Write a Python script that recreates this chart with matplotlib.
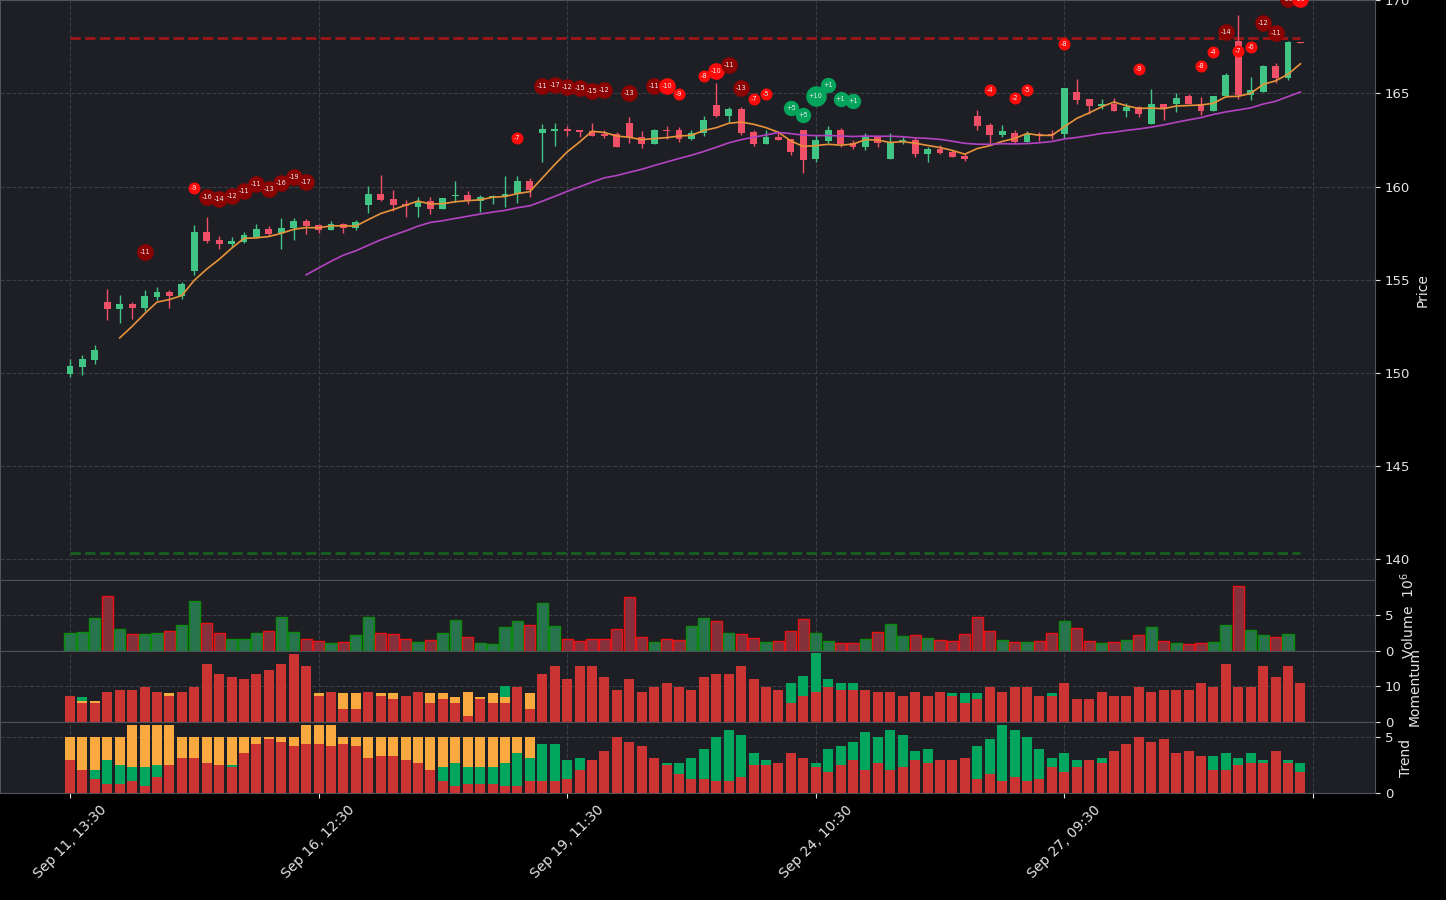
import numpy as np
import pandas as pd
import matplotlib
matplotlib.use("Agg")
import matplotlib.pyplot as plt

# hourly candles starting Sep 11, 13:30
opens = [149.92, 150.29, 150.67, 153.78, 153.41, 153.68, 153.46, 154.05, 154.32, 154.10,
         155.48, 157.56, 157.13, 156.94, 157.04, 157.29, 157.72, 157.49, 157.78, 158.17,
         157.92, 157.69, 157.97, 157.79, 159.03, 159.60, 159.33, 159.07, 158.92, 159.22,
         158.82, 159.49, 159.53, 159.24, 159.42, 159.46, 159.58, 160.30, 162.86, 163.00,
         163.10, 163.05, 163.00, 162.80, 162.80, 163.42, 162.68, 162.29, 163.06, 163.04,
         162.57, 162.86, 164.38, 163.81, 164.17, 162.93, 162.29, 162.68, 162.54, 163.04,
         161.48, 162.47, 163.04, 162.32, 162.14, 162.68, 161.48, 162.45, 162.50, 161.77,
         162.02, 161.88, 161.66, 163.78, 163.28, 162.78, 162.90, 162.40, 162.85, 162.85,
         162.81, 165.07, 164.70, 164.32, 164.41, 164.05, 164.25, 163.35, 164.43, 164.41,
         164.84, 164.46, 164.05, 164.87, 167.80, 164.91, 165.07, 166.47, 165.84, 167.76]
highs = [150.76, 150.94, 151.51, 154.48, 154.16, 153.80, 154.43, 154.61, 154.43, 154.87,
         157.92, 158.39, 157.35, 157.31, 157.54, 157.99, 157.88, 158.30, 158.30, 158.26,
         157.99, 158.15, 158.04, 158.20, 160.03, 160.62, 159.80, 159.28, 159.46, 159.46,
         159.41, 160.30, 159.76, 159.55, 159.53, 160.57, 160.57, 160.44, 163.34, 163.40,
         163.27, 163.06, 163.40, 163.05, 162.95, 163.76, 162.99, 163.09, 163.25, 163.20,
         163.02, 163.79, 165.55, 164.26, 164.26, 163.04, 163.04, 162.91, 162.54, 163.04,
         162.77, 163.24, 163.13, 162.50, 162.86, 162.77, 162.86, 162.68, 162.61, 162.14,
         162.23, 161.97, 161.79, 164.10, 163.39, 163.28, 163.06, 162.99, 162.94, 163.06,
         165.32, 165.77, 164.70, 164.70, 164.78, 164.50, 164.32, 165.22, 164.46, 165.00,
         164.96, 164.82, 164.89, 166.11, 169.21, 165.86, 166.51, 166.61, 167.80, 167.76]
lows = [149.77, 149.86, 150.45, 152.83, 152.67, 152.87, 153.32, 153.93, 153.50, 153.98,
        155.23, 156.99, 156.63, 156.77, 156.99, 157.22, 157.35, 156.63, 157.13, 157.44,
        157.52, 157.65, 157.52, 157.65, 158.56, 159.20, 158.67, 158.39, 158.39, 158.50,
        158.78, 159.17, 159.05, 158.65, 159.08, 158.92, 159.10, 159.46, 161.33, 162.20,
        162.73, 162.65, 162.70, 162.59, 162.14, 162.36, 162.09, 162.29, 162.54, 162.41,
        162.50, 162.70, 163.72, 163.47, 162.75, 162.20, 162.29, 162.52, 161.71, 160.71,
        161.30, 162.32, 162.14, 162.00, 161.96, 162.11, 161.46, 162.29, 161.57, 161.33,
        161.73, 161.57, 161.36, 163.06, 162.35, 162.67, 162.35, 162.40, 162.46, 162.58,
        162.63, 164.46, 163.92, 164.18, 164.05, 163.75, 163.75, 163.35, 163.57, 164.01,
        164.41, 163.84, 164.05, 164.82, 164.70, 164.64, 165.07, 165.54, 165.75, 167.72]
closes = [150.35, 150.72, 151.20, 153.41, 153.68, 153.46, 154.10, 154.32, 154.10, 154.75,
          157.56, 157.10, 156.94, 157.08, 157.40, 157.72, 157.45, 157.78, 158.17, 157.88,
          157.65, 157.97, 157.79, 158.11, 159.60, 159.28, 159.03, 158.98, 159.22, 158.80,
          159.39, 159.53, 159.28, 159.44, 159.49, 159.60, 160.30, 159.82, 163.08, 163.10,
          163.00, 162.95, 162.73, 162.74, 162.14, 162.68, 162.29, 163.04, 162.99, 162.57,
          162.88, 163.58, 163.79, 164.17, 162.90, 162.29, 162.68, 162.52, 161.86, 161.43,
          162.50, 163.04, 162.29, 162.14, 162.64, 162.36, 162.41, 162.50, 161.75, 162.02,
          161.82, 161.61, 161.50, 163.26, 162.78, 162.97, 162.40, 162.85, 162.76, 162.76,
          165.29, 164.64, 164.32, 164.41, 164.05, 164.27, 163.92, 164.43, 164.23, 164.78,
          164.41, 164.05, 164.89, 165.99, 164.91, 165.18, 166.47, 165.84, 167.76, 167.72]

# volume in millions (the last, still open bar has none)
volume = [2.45, 2.6, 4.54, 7.64, 3.0, 2.31, 2.31, 2.45, 2.78, 3.56,
          6.9, 3.89, 2.5, 1.62, 1.62, 2.5, 2.78, 4.68, 2.64, 1.62,
          1.39, 1.06, 1.25, 2.18, 4.68, 2.5, 2.31, 1.62, 1.25, 1.48,
          2.5, 4.26, 1.9, 1.06, 0.93, 3.29, 4.12, 3.56, 6.62, 3.43,
          1.62, 1.34, 1.62, 1.62, 3.0, 7.45, 1.9, 1.2, 1.62, 1.48,
          3.43, 4.54, 4.12, 2.45, 2.31, 1.76, 1.2, 1.34, 2.73, 4.4,
          2.45, 1.34, 1.06, 1.06, 1.62, 2.6, 3.7, 2.04, 2.18, 1.76,
          1.48, 1.34, 2.31, 4.68, 2.73, 1.48, 1.2, 1.2, 1.34, 2.45,
          4.12, 3.15, 1.34, 1.06, 1.2, 1.48, 2.18, 3.29, 1.34, 1.06,
          0.93, 1.06, 1.2, 3.56, 8.98, 2.87, 2.18, 1.9, 2.31]

mom_red = [7.3, 5.3, 5.3, 8.2, 9.0, 9.0, 9.8, 8.2, 7.3, 8.2,
           9.8, 16.2, 13.4, 12.6, 11.8, 13.4, 14.5, 16.2, 19.0, 15.4,
           7.3, 8.2, 3.7, 3.7, 8.2, 7.3, 6.5, 7.3, 8.2, 5.3,
           6.5, 5.3, 1.8, 6.5, 5.3, 5.3, 9.8, 3.7, 13.4, 15.4,
           11.8, 15.4, 15.4, 12.6, 9.0, 11.8, 8.2, 9.8, 10.9, 9.8,
           9.0, 12.6, 13.4, 13.4, 15.4, 11.8, 9.8, 9.0, 5.3, 7.3,
           8.2, 9.8, 9.0, 9.0, 9.0, 8.2, 8.2, 7.3, 8.2, 7.3,
           8.2, 7.3, 5.3, 6.5, 9.8, 8.2, 9.8, 9.8, 7.3, 7.3,
           10.9, 6.5, 6.5, 8.2, 7.3, 7.3, 9.8, 8.2, 9.0, 9.0,
           9.0, 10.9, 9.8, 16.2, 9.8, 9.8, 15.4, 12.6, 15.4, 10.9]
mom_orange = [0, 0.65, 0.65, 0, 0, 0, 0, 0, 0.83, 0,
              0, 0, 0, 0, 0, 0, 0, 0, 0, 0,
              0.83, 0, 4.44, 4.44, 0, 0.83, 1.67, 0, 0, 2.87,
              1.67, 1.76, 6.39, 0.56, 2.87, 1.76, 0, 4.44, 0, 0] + [0] * 60
mom_green = [0, 1.11, 0, 0, 0, 0, 0, 0, 0, 0,
             0, 0, 0, 0, 0, 0, 0, 0, 0, 0,
             0, 0, 0, 0, 0, 0, 0, 0, 0, 0,
             0, 0, 0, 0, 0, 3.06, 0, 0, 0, 0,
             0, 0, 0, 0, 0, 0, 0, 0, 0, 0,
             0, 0, 0, 0, 0, 0, 0, 0, 5.65, 5.56,
             10.83, 2.22, 1.94, 1.94, 0, 0, 0, 0, 0, 0,
             0, 0.83, 2.87, 1.67, 0, 0, 0, 0, 0, 0.83,
             0, 0, 0, 0, 0, 0, 0, 0, 0, 0,
             0, 0, 0, 0, 0, 0, 0, 0, 0, 0]

trend_red = [2.98, 2.08, 1.28, 0.83, 0.83, 1.1, 0.65, 1.46, 2.53, 3.15,
             3.15, 2.71, 2.53, 2.35, 3.6, 4.4, 4.85, 4.58, 4.23, 4.4,
             4.4, 4.23, 4.4, 4.23, 3.15, 3.33, 3.33, 2.98, 2.71, 2.08,
             1.1, 0.65, 0.83, 0.83, 0.83, 0.65, 0.65, 1.1, 1.1, 1.1,
             1.28, 2.08, 2.98, 3.78, 5.03, 4.58, 4.23, 3.15, 2.53, 1.73,
             1.28, 1.28, 1.1, 1.1, 1.46, 2.53, 2.53, 2.71, 3.6, 3.15,
             2.35, 1.9, 2.53, 2.98, 2.08, 2.71, 2.08, 2.35, 2.98, 2.71,
             2.98, 2.98, 3.15, 1.28, 1.73, 1.1, 1.46, 1.1, 1.28, 2.35,
             1.9, 2.35, 2.98, 2.71, 3.78, 4.4, 5.03, 4.58, 4.85, 3.6,
             3.78, 3.33, 2.08, 2.08, 2.53, 2.71, 2.71, 3.78, 2.71, 1.9]
trend_green = [0, 0, 0.8, 2.14, 1.7, 1.25, 1.7, 1.07, 0, 0,
               0, 0, 0, 0.18, 0, 0, 0, 0, 0, 0,
               0, 0, 0, 0, 0, 0, 0, 0, 0, 0,
               1.25, 2.05, 1.52, 1.52, 1.52, 2.05, 2.95, 2.05, 3.3, 3.3,
               1.7, 1.07, 0, 0, 0, 0, 0, 0, 0.18, 0.98,
               1.88, 2.68, 3.93, 4.55, 3.75, 1.07, 0.45, 0, 0, 0,
               0.36, 2.05, 1.7, 1.6, 3.39, 2.32, 3.57, 2.86, 0.8, 1.25,
               0, 0, 0, 2.95, 3.13, 5.0, 4.2, 3.93, 2.68, 0.8,
               1.7, 0.63, 0, 0.45, 0, 0, 0, 0, 0, 0,
               0, 0, 1.25, 1.52, 0.63, 0.89, 0.27, 0, 0.27, 0.8]
trend_orange = [2.05, 2.95, 2.95, 2.05, 2.5, 3.75, 3.75, 3.57, 3.57, 1.88,
                1.88, 2.32, 2.5, 2.5, 1.43, 0.63, 0.18, 0.45, 0.8, 1.7,
                1.7, 1.87, 0.63, 0.8, 1.88, 1.7, 1.7, 2.05, 2.32, 2.95,
                2.68, 2.32, 2.68, 2.68, 2.68, 2.32, 1.43, 1.88, 0, 0] + [0] * 60

# signal bubbles: candle index, score, price level
bub_idx = [6, 10, 11, 12, 13, 14, 15, 16, 17, 18, 19,
           36, 38, 39, 40, 41, 42, 43, 45, 47, 48, 49,
           51, 52, 53, 54, 55, 56,
           58, 59, 60, 61, 62, 63,
           74, 76, 77, 80, 86, 91, 92, 93, 94, 95, 96, 97, 98, 99]
bub_val = [-11, -9, -16, -14, -12, -11, -11, -13, -16, -19, -17,
           -7, -11, -17, -12, -15, -15, -12, -13, -11, -10, -9,
           -8, -10, -11, -13, -7, -5,
           5, 5, 10, 1, 1, 1,
           -4, -2, -5, -8, -9, -8, -4, -14, -7, -6, -12, -11, -13, -10]
bub_px = [156.47, 159.94, 159.46, 159.32, 159.48, 159.75, 160.12, 159.89, 160.18, 160.50, 160.26,
          162.63, 165.40, 165.46, 165.37, 165.31, 165.12, 165.17, 165.01, 165.42, 165.39, 164.97,
          165.96, 166.19, 166.53, 165.28, 164.72, 164.99,
          164.24, 163.85, 164.85, 165.44, 164.72, 164.58,
          165.16, 164.77, 165.20, 167.65, 166.31, 166.47, 167.24, 168.32, 167.29, 167.51,
          168.80, 168.23, 170.10, 170.05]

resistance = 167.96
support = 140.32

tick_labels = ["Sep 11, 13:30", "Sep 16, 12:30", "Sep 19, 11:30",
               "Sep 24, 10:30", "Sep 27, 09:30", ""]

BG = "#1d1f24"
GRID = "#3a3d44"
SPINE = "#4f535b"
TXT = "#e4e4e4"
C_UP = "#40c585"
C_DN = "#ef5068"
BAR_RED = "#cc3333"
BAR_GREEN = "#00a65e"
BAR_ORANGE = "#f9a93d"

fig = plt.figure(figsize=(14.46, 9), dpi=100, facecolor="black")
W = 1375 / 1446
ax_p = fig.add_axes([0, 1 - 580 / 900, W, 580 / 900])
ax_v = fig.add_axes([0, 1 - 651 / 900, W, 71 / 900], sharex=ax_p)
ax_m = fig.add_axes([0, 1 - 722 / 900, W, 71 / 900], sharex=ax_p)
ax_t = fig.add_axes([0, 1 - 793 / 900, W, 71 / 900], sharex=ax_p)

x = np.arange(len(closes))
o = np.array(opens)
c = np.array(closes)
up = c >= o
cols = np.where(up, C_UP, C_DN)

# candles
ax_p.vlines(x, lows, highs, colors=cols, lw=1, zorder=3)
ax_p.bar(x, np.maximum(np.abs(c - o), 0.03), bottom=np.minimum(o, c),
         width=0.55, color=cols, zorder=4)

s = pd.Series(closes)
ax_p.plot(x, s.rolling(5).mean(), color="#e8923a", lw=1.2, zorder=5)
ax_p.plot(x, s.rolling(20).mean(), color="#b443c4", lw=1.2, zorder=5)

ax_p.hlines(resistance, 0, len(x) - 1, colors="#a01616", linestyles="--", lw=2, zorder=2)
ax_p.hlines(support, 0, len(x) - 1, colors="#16601f", linestyles="--", lw=2, zorder=2)

# bubbles
for i, v, p in zip(bub_idx, bub_val, bub_px):
    if v > 0:
        fc = "#04a35c"
        r = 10.3 if v >= 10 else 7.7
    else:
        fc = "#ff0a0a" if v > -11 else "#8b0303"
        r = 8.3 if v <= -10 else 6.0
    ax_p.scatter(i, p, s=(1.44 * r) ** 2, color=fc, zorder=6, linewidths=0)
    ax_p.text(i, p, f"{v:+d}", color="#e8e8e8", fontsize=4.8,
              ha="center", va="center", zorder=7, clip_on=True)

ax_p.set_ylim(138.87, 170.02)
ax_p.set_yticks(range(140, 171, 5))
ax_p.set_ylabel("Price", color=TXT, fontsize=10)

# volume
xv = np.arange(len(volume))
vup = up[:len(volume)]
ax_v.bar(xv, volume, width=0.9,
         color=np.where(vup, "#27744f", "#84303d"),
         edgecolor=np.where(vup, "#0b8a0b", "#e81212"), linewidth=1, zorder=3)
ax_v.set_ylim(0, 9.86)
ax_v.set_yticks([0, 5])
ax_v.set_ylabel("Volume  $10^{6}$", color=TXT, fontsize=10)

# momentum
ax_m.bar(x, mom_red, width=0.8, color=BAR_RED, zorder=3)
ax_m.bar(x, mom_orange, width=0.8, bottom=mom_red, color=BAR_ORANGE, zorder=3)
ax_m.bar(x, mom_green, width=0.8, bottom=np.add(mom_red, mom_orange), color=BAR_GREEN, zorder=3)
ax_m.set_ylim(0, 19.7)
ax_m.set_yticks([0, 10])
ax_m.set_ylabel("Momentum", color=TXT, fontsize=10)

# trend
ax_t.bar(x, trend_red, width=0.8, color=BAR_RED, zorder=3)
ax_t.bar(x, trend_green, width=0.8, bottom=trend_red, color=BAR_GREEN, zorder=3)
ax_t.bar(x, trend_orange, width=0.8, bottom=np.add(trend_red, trend_green), color=BAR_ORANGE, zorder=3)
ax_t.set_ylim(0, 6.34)
ax_t.set_yticks([0, 5])
ax_t.set_ylabel("Trend", color=TXT, fontsize=10)

for ax in (ax_p, ax_v, ax_m, ax_t):
    ax.set_facecolor(BG)
    ax.grid(True, color=GRID, ls="--", lw=0.8)
    ax.set_axisbelow(True)
    ax.yaxis.tick_right()
    ax.yaxis.set_label_position("right")
    ax.tick_params(colors=TXT, labelsize=9.5)
    for sp in ax.spines.values():
        sp.set_color(SPINE)
    if ax is not ax_t:
        ax.tick_params(bottom=False, labelbottom=False)

ax_t.set_xlim(-5.63, 105)
ax_t.set_xticks(range(0, 101, 20))
ax_t.set_xticklabels(tick_labels, rotation=45, ha="center", fontsize=10)

fig.savefig("out.png", dpi=100, facecolor="black")
